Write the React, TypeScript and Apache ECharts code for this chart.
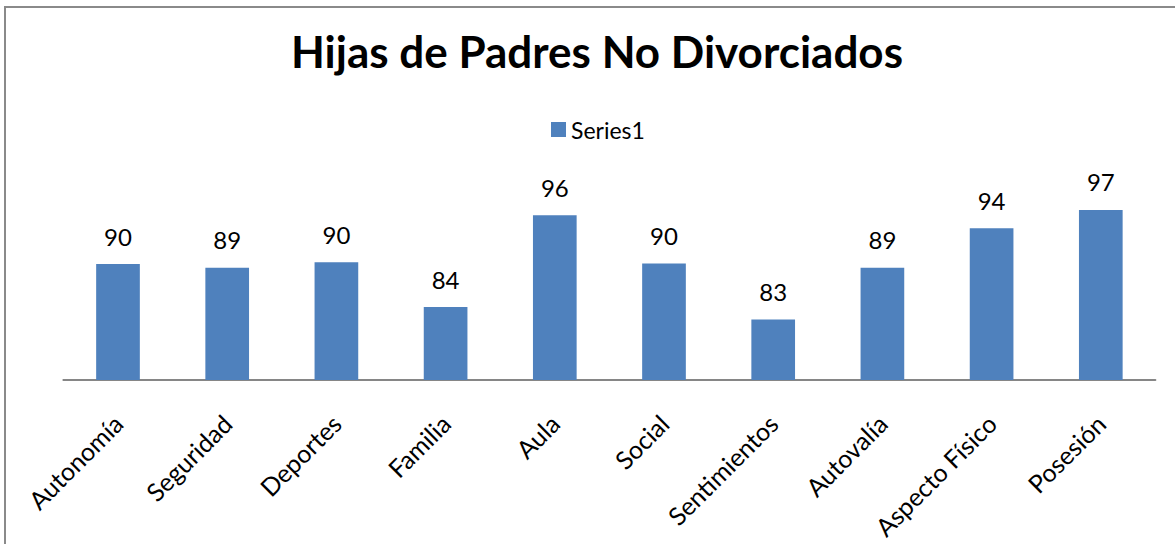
import React, { useEffect, useRef } from "react";
import * as echarts from "echarts";

const categories = [
  "Autonomía",
  "Seguridad",
  "Deportes",
  "Familia",
  "Aula",
  "Social",
  "Sentimientos",
  "Autovalía",
  "Aspecto Físico",
  "Posesión",
];
const series1 = [89.78, 89.31, 90.03, 84.3, 96.02, 89.87, 82.73, 89.31, 94.36, 96.69];
const seriesName = "Series1";
const titleText = "Hijas de Padres No Divorciados";
const FONT = "Lato, 'Noto Sans', sans-serif";

export default function App() {
  const ref = useRef<HTMLDivElement>(null);
  useEffect(() => {
    if (!ref.current) return;
    const chart = echarts.init(ref.current, undefined, { renderer: "svg" });
    chart.setOption({
      animation: false,
      backgroundColor: "#ffffff",
      title: {
        text: titleText,
        left: 592,
        textAlign: "center",
        top: 24,
        textStyle: { fontFamily: FONT, fontWeight: "bold", fontSize: 44, color: "#000000" },
      },
      legend: {
        data: [seriesName],
        top: 118,
        left: 551,
        padding: 0,
        icon: "rect",
        itemWidth: 15,
        itemHeight: 15,
        itemGap: 6,
        textStyle: { fontFamily: FONT, fontSize: 23, color: "#000000" },
      },
      grid: { left: 63.4, right: 19.6, top: 184, bottom: 164, containLabel: false },
      xAxis: {
        type: "category",
        data: categories,
        axisLine: { lineStyle: { color: "#868686", width: 2 } },
        axisTick: { show: false },
        axisLabel: {
          rotate: 45,
          margin: 39,
          fontFamily: FONT,
          fontSize: 25,
          color: "#000000",
          interval: 0,
        },
      },
      yAxis: {
        type: "value",
        min: 75,
        max: 100,
        show: false,
        splitLine: { show: false },
      },
      series: [
        {
          name: seriesName,
          type: "bar",
          data: series1,
          barCategoryGap: "60%",
          itemStyle: { color: "#4F81BD" },
          label: {
            show: true,
            position: "top",
            distance: 16,
            fontFamily: FONT,
            fontSize: 24,
            color: "#000000",
            formatter: (p: any) => String(Math.round(p.value)),
          },
        },
      ],
      graphic: [
        {
          type: "rect",
          shape: { x: 5, y: 7, width: 1300, height: 700 },
          style: { fill: "none", stroke: "#8a8a8a", lineWidth: 2 },
          silent: true,
        },
      ],
    });
    return () => chart.dispose();
  }, []);
  return (
    <div
      ref={ref}
      style={{ position: "fixed", left: 0, top: 0, width: 1175, height: 544 }}
    />
  );
}
